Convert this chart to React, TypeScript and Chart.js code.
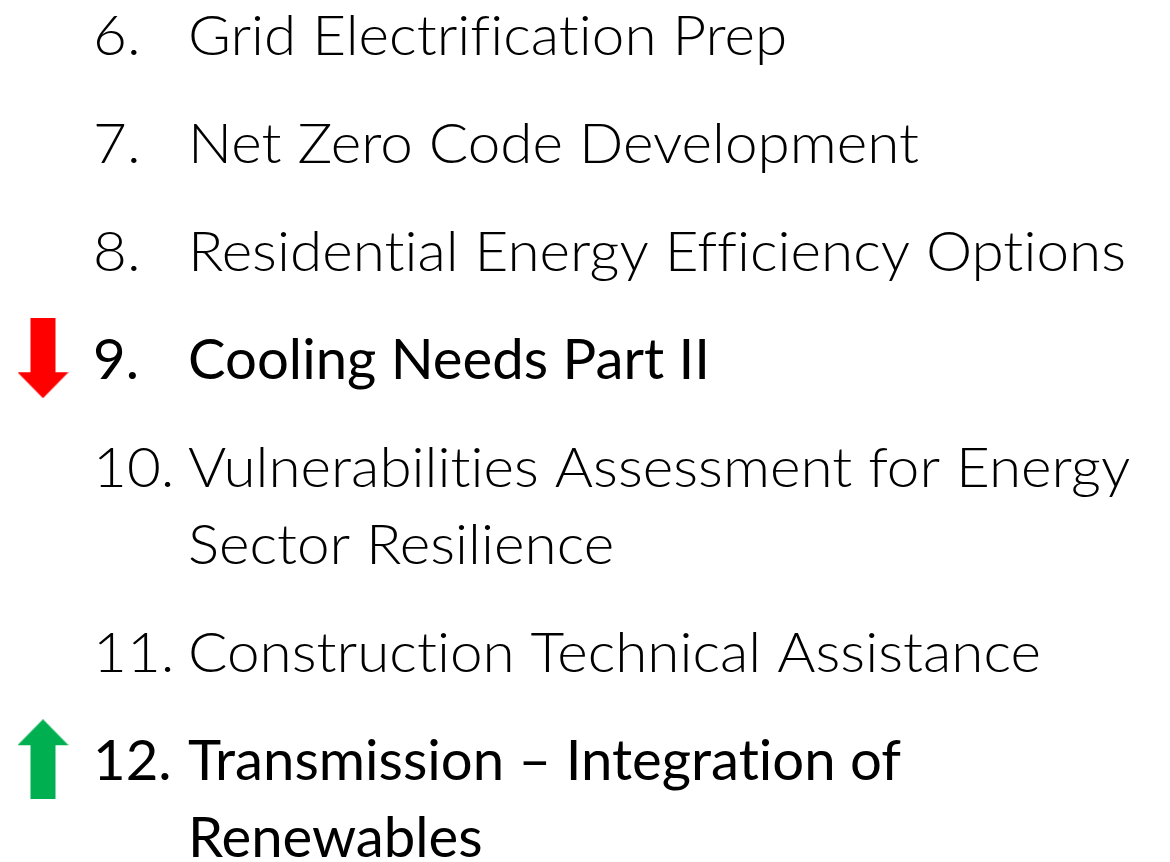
import React, { useEffect, useRef } from "react";
import { Chart, registerables } from "chart.js";

Chart.register(...registerables);

// ---- Data ----
const itemNumbers = ["6.", "7.", "8.", "9.", "10.", "11.", "12."];
const itemLines: string[][] = [
  ["Grid Electrification Prep"],
  ["Net Zero Code Development"],
  ["Residential Energy Efficiency Options"],
  ["Cooling Needs Part II"],
  ["Vulnerabilities Assessment for Energy", "Sector Resilience"],
  ["Construction Technical Assistance"],
  ["Transmission – Integration of", "Renewables"],
];
const itemEmphasis = [false, false, false, true, false, false, true];
const arrowItems = ["9.", "12."];
const arrowDirections = ["down", "up"];
const arrowColors = ["#FF0000", "#00B050"];

// ---- Layout / style constants (in axis units) ----
const W = 1170;
const H = 862;
const LINE = 1; // one text line
const PARA = 108 / 77; // paragraph step in line units
const Y_MIN = -55 / 77;
const Y_MAX = (H - 55) / 77;
const NUMBER_X = 93;
const TEXT_X = 188;
const ARROW_X = 43;
const FONT_SIZE = 56;
const FONT_FAMILY = "Lato, 'Open Sans', sans-serif";
const LIGHT_REF = "Residential Energy Efficiency Options";
const LIGHT_REF_W = 938;
const REG_REF = "Cooling Needs Part II";
const REG_REF_W = 522;

function lineBaselines(): number[][] {
  const out: number[][] = [];
  let extra = 0;
  itemLines.forEach((lines, i) => {
    const b: number[] = [];
    lines.forEach((_, j) => b.push(i * PARA + (extra + j) * LINE));
    extra += lines.length - 1;
    out.push(b);
  });
  return out;
}

function makeArrow(dir: string, color: string): HTMLCanvasElement {
  const c = document.createElement("canvas");
  const w = 51, h = 80, shaftW = 25, headH = 26;
  c.width = w;
  c.height = h;
  const g = c.getContext("2d")!;
  g.fillStyle = color;
  g.beginPath();
  const sx0 = (w - shaftW) / 2, sx1 = sx0 + shaftW;
  if (dir === "down") {
    g.moveTo(sx0, 0);
    g.lineTo(sx1, 0);
    g.lineTo(sx1, h - headH);
    g.lineTo(w, h - headH);
    g.lineTo(w / 2, h);
    g.lineTo(0, h - headH);
    g.lineTo(sx0, h - headH);
  } else {
    g.moveTo(w / 2, 0);
    g.lineTo(w, headH);
    g.lineTo(sx1, headH);
    g.lineTo(sx1, h);
    g.lineTo(sx0, h);
    g.lineTo(sx0, headH);
    g.lineTo(0, headH);
  }
  g.closePath();
  g.fill();
  return c;
}

const textPlugin = {
  id: "listText",
  afterDatasetsDraw(chart: any) {
    const ctx = chart.ctx as any;
    const xs = chart.scales.x;
    const ys = chart.scales.y;
    const bases = lineBaselines();
    ctx.save();
    ctx.fillStyle = "#000000";
    ctx.textBaseline = "alphabetic";
    ctx.textAlign = "left";
    try {
      ctx.textRendering = "optimizeSpeed";
      ctx.letterSpacing = "0.01px";
    } catch (e) {}
    ctx.font = `300 ${FONT_SIZE}px ${FONT_FAMILY}`;
    const lightScale = LIGHT_REF_W / ctx.measureText(LIGHT_REF).width;
    ctx.font = `400 ${FONT_SIZE}px ${FONT_FAMILY}`;
    const regScale = REG_REF_W / ctx.measureText(REG_REF).width;
    itemLines.forEach((lines, i) => {
      const em = itemEmphasis[i];
      ctx.font = `${em ? 400 : 300} ${FONT_SIZE}px ${FONT_FAMILY}`;
      const s = em ? regScale : lightScale;
      const draw = (t: string, xv: number, yv: number) => {
        ctx.save();
        ctx.translate(xs.getPixelForValue(xv), ys.getPixelForValue(yv));
        ctx.scale(s, 1);
        ctx.fillText(t, 0, 0);
        ctx.restore();
      };
      draw(itemNumbers[i], NUMBER_X, bases[i][0]);
      lines.forEach((t, j) => draw(t, TEXT_X, bases[i][j]));
    });
    ctx.restore();
  },
};

export default function App() {
  const ref = useRef<HTMLCanvasElement>(null);
  useEffect(() => {
    document.body.style.margin = "0";
    const bases = lineBaselines();
    const arrowData = arrowItems.map((n) => {
      const idx = itemNumbers.indexOf(n);
      return { x: ARROW_X, y: bases[idx][0] - 0.27 };
    });
    const styles = arrowDirections.map((d, i) => makeArrow(d, arrowColors[i]));
    const chart = new Chart(ref.current!, {
      type: "scatter",
      data: {
        datasets: [
          {
            data: arrowData,
            pointStyle: styles as any,
            pointRadius: 30,
            pointHoverRadius: 30,
            backgroundColor: arrowColors,
            borderWidth: 0,
          },
        ],
      },
      options: {
        animation: false,
        responsive: false,
        maintainAspectRatio: false,
        layout: { padding: 0, autoPadding: false },
        events: [],
        plugins: { legend: { display: false }, tooltip: { enabled: false } },
        scales: {
          x: { type: "linear", min: 0, max: W, display: false },
          y: { type: "linear", min: Y_MIN, max: Y_MAX, reverse: true, display: false },
        },
      },
      plugins: [textPlugin],
    });
    return () => chart.destroy();
  }, []);
  return (
    <div style={{ width: W, height: H, background: "#fff" }}>
      <canvas ref={ref} width={W} height={H} style={{ display: "block" }} />
    </div>
  );
}
